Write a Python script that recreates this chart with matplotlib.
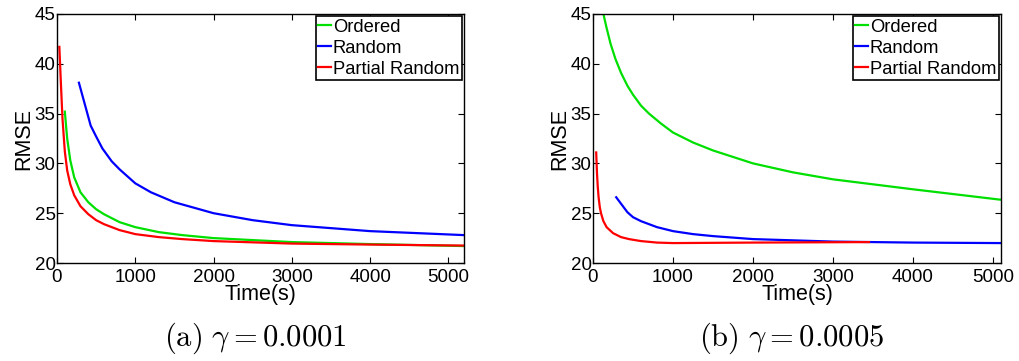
import matplotlib.pyplot as plt
import numpy as np

# RMSE over time, gamma = 0.0001
t_ord_a = [100, 130, 170, 220, 300, 400, 500, 600, 800, 1000, 1300, 1600, 2000, 2500, 3000, 4000, 5200]
rmse_ord_a = [35.2, 32.5, 30.3, 28.6, 27.1, 26.1, 25.4, 24.9, 24.1, 23.6, 23.1, 22.8, 22.5, 22.3, 22.1, 21.9, 21.7]
t_rnd_a = [280, 430, 500, 580, 700, 800, 1000, 1200, 1500, 2000, 2500, 3000, 4000, 5200]
rmse_rnd_a = [38.1, 33.8, 32.7, 31.5, 30.2, 29.4, 28.0, 27.1, 26.1, 25.0, 24.3, 23.8, 23.2, 22.8]
t_par_a = [30, 50, 70, 100, 130, 170, 220, 300, 400, 500, 600, 800, 1000, 1300, 1600, 2000, 3000, 4000, 5200]
rmse_par_a = [41.7, 38.0, 34.5, 31.2, 29.3, 27.9, 26.8, 25.7, 24.9, 24.3, 23.9, 23.3, 22.9, 22.6, 22.4, 22.2, 21.95, 21.85, 21.75]

# RMSE over time, gamma = 0.0005
t_ord_b = [130, 170, 220, 280, 350, 430, 500, 600, 700, 850, 1000, 1250, 1500, 2000, 2500, 3000, 4000, 5100]
rmse_ord_b = [45.0, 43.6, 42.0, 40.5, 39.1, 37.8, 36.9, 35.8, 35.0, 34.0, 33.1, 32.1, 31.3, 30.0, 29.1, 28.4, 27.4, 26.35]
t_rnd_b = [290, 430, 500, 600, 700, 800, 1000, 1250, 1500, 2000, 3000, 4000, 5100]
rmse_rnd_b = [26.6, 25.1, 24.6, 24.2, 23.9, 23.6, 23.2, 22.9, 22.7, 22.4, 22.15, 22.05, 22.0]
t_par_b = [40, 50, 60, 70, 85, 100, 130, 170, 250, 350, 450, 600, 800, 1000, 2000, 3450]
rmse_par_b = [31.1, 29.0, 27.6, 26.6, 25.6, 25.0, 24.2, 23.6, 23.0, 22.6, 22.4, 22.2, 22.05, 22.0, 22.05, 22.1]

labels = ['Ordered', 'Random', 'Partial Random']
captions = [r'$\mathrm{(a)}\ \gamma = 0.0001$', r'$\mathrm{(b)}\ \gamma = 0.0005$']
xmax = [5200, 5100]

plt.rcParams['font.family'] = ['Liberation Sans', 'DejaVu Sans']
plt.rcParams['mathtext.fontset'] = 'cm'

fig = plt.figure(figsize=(10.19, 3.61), dpi=100)
ax1 = fig.add_axes([57 / 1019, 1 - 263 / 361, 407 / 1019, 249 / 361])
ax2 = fig.add_axes([593 / 1019, 1 - 263 / 361, 408 / 1019, 249 / 361])

panels = [
    (ax1, [(t_ord_a, rmse_ord_a), (t_rnd_a, rmse_rnd_a), (t_par_a, rmse_par_a)]),
    (ax2, [(t_ord_b, rmse_ord_b), (t_rnd_b, rmse_rnd_b), (t_par_b, rmse_par_b)]),
]
colors = ['#00e000', '#0000ff', '#ff0000']

for i, (ax, series) in enumerate(panels):
    for (t, r), c, lab in zip(series, colors, labels):
        ax.plot(t, r, color=c, lw=1.6, label=lab)
    ax.set_xlim(0, xmax[i])
    ax.set_ylim(20, 45)
    ax.set_xticks([0, 1000, 2000, 3000, 4000, 5000])
    ax.set_yticks([20, 25, 30, 35, 40, 45])
    ax.tick_params(direction='in', top=True, right=True, labelsize=13.5, length=4)
    ax.tick_params(axis='x', pad=4)
    ax.tick_params(axis='y', pad=1)
    ax.set_xlabel('Time(s)', fontsize=15.5, labelpad=-1)
    ax.set_ylabel('RMSE', fontsize=15.5, labelpad=0)
    for s in ax.spines.values():
        s.set_linewidth(1.0)
    leg = ax.legend(loc='upper right', fontsize=13.2, handlelength=0.7, handletextpad=0.1,
                    borderpad=0.15, labelspacing=0.22, fancybox=False, framealpha=1,
                    borderaxespad=0.1)
    leg.get_frame().set_edgecolor('black')
    leg.get_frame().set_linewidth(1.2)
    pos = ax.get_position()
    fig.text((pos.x0 + pos.x1) / 2 - 0.005, 1 - 338 / 361, captions[i], ha='center', va='center',
             fontsize=22)

fig.savefig('out.png', dpi=100)
